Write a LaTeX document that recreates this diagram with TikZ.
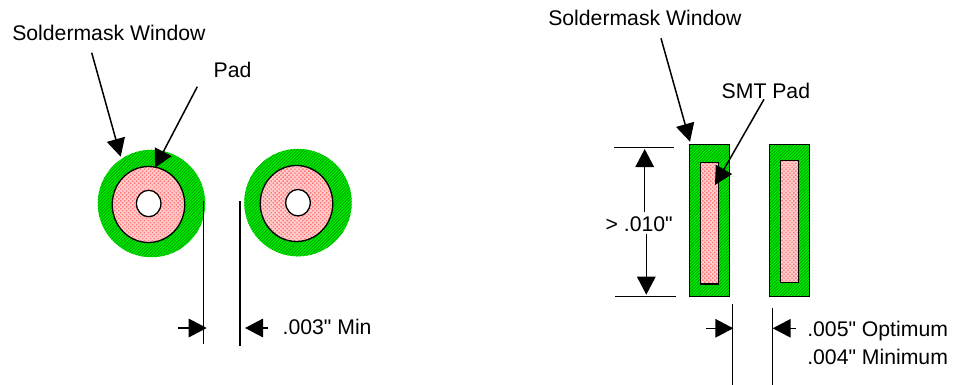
\documentclass[tikz,border=0pt]{standalone}
\usepackage{fontspec}
\newfontfamily\lblfont{Liberation Sans}
\usetikzlibrary{arrows.meta,patterns.meta,shapes.geometric}
\definecolor{maskgreen}{RGB}{0,240,0}
\definecolor{maskhatch}{RGB}{0,160,0}
\definecolor{padpink}{RGB}{255,120,120}
\definecolor{padbase}{RGB}{255,205,205}
\tikzset{
  x=1pt,y=-1pt,
  lbl/.style={anchor=base west,inner sep=0pt,outer sep=0pt,font=\lblfont\fontsize{21.2}{24}\selectfont,text=black},
  ln/.style={draw=black,line width=1.5pt},
  arr/.style={ln,-{Triangle[length=18pt,width=18.5pt]}},
  maskfill/.style={preaction={fill=maskgreen},pattern={Lines[angle=45,distance=2.2pt,line width=0.8pt]},pattern color=maskhatch},
  padfill/.style={preaction={fill=padbase},pattern={Dots[angle=45,distance=2.8pt,radius=1pt]},pattern color=padpink},
  maskcirc/.style={ellipse,inner sep=0pt,outer sep=0pt,maskfill},
  padcirc/.style={ellipse,inner sep=0pt,outer sep=0pt,draw=black,line width=1.3pt,padfill},
  holecirc/.style={ellipse,inner sep=0pt,outer sep=0pt,draw=black,line width=1.3pt,fill=white},
  maskrect/.style={rectangle,inner sep=0pt,outer sep=0pt,draw=black,line width=1.3pt,maskfill},
  padrect/.style={rectangle,inner sep=0pt,outer sep=0pt,draw=black,line width=1.3pt,padfill},
}
\begin{document}
\begin{tikzpicture}
\useasboundingbox (0,0) rectangle (953,385);
% left pair of round pads
\node[maskcirc,minimum width=107.5pt,minimum height=107.5pt] (maskA) at (151.5,203.5) {};
\node[padcirc,minimum width=72.5pt,minimum height=76pt] (padA) at (148.5,204.5) {};
\node[holecirc,minimum width=24.5pt,minimum height=26.5pt] (holeA) at (148.7,203.5) {};
\node[maskcirc,minimum width=107.5pt,minimum height=107.5pt] (maskB) at (298,202.6) {};
\node[padcirc,minimum width=72.5pt,minimum height=76pt] (padB) at (296.5,203.5) {};
\node[holecirc,minimum width=24.5pt,minimum height=26.5pt] (holeB) at (298,202.7) {};
% right pair of rectangular pads
\node[maskrect,minimum width=40.4pt,minimum height=152pt] (maskC) at (709.5,220.7) {};
\node[padrect,minimum width=18pt,minimum height=121.7pt] (padC) at (709.7,223.2) {};
\node[maskrect,minimum width=40.4pt,minimum height=152pt] (maskD) at (789.5,220.7) {};
\node[padrect,minimum width=18pt,minimum height=122pt] (padD) at (789.7,221.7) {};
% labels
\node[lbl] (lblMaskL) at (12.3,40.7) {Soldermask Window};
\node[lbl] (lblPad) at (213.7,77.3) {Pad};
\node[lbl] (lblMaskR) at (548.3,25.7) {Soldermask Window};
\node[lbl] (lblSmt) at (721.7,98.3) {SMT Pad};
\node[lbl] (lblMin) at (282.7,334.3) {.003" Min};
\node[lbl] (lblTen) at (605.7,231) {> .010"};
\node[lbl] (lblOpt) at (807.3,336.7) {.005" Optimum};
\node[lbl] (lblMinm) at (807.3,364) {.004" Minimum};
% coordinates for connector ends
\coordinate (a1) at (91.7,52.7); \coordinate (a2) at (120.7,156.7);
\coordinate (b1) at (197.3,86.7); \coordinate (b2) at (155,167.7);
\coordinate (c1) at (661,38.3); \coordinate (c2) at (690,141.7);
\coordinate (d1) at (764,99.3); \coordinate (d2) at (715,185);
\coordinate (e1) at (203.3,201); \coordinate (e2) at (203.3,344);
\coordinate (f1) at (240,201); \coordinate (f2) at (240,346);
\coordinate (g1) at (178.3,328); \coordinate (g2) at (206.7,328);
\coordinate (h1) at (268.3,328); \coordinate (h2) at (245,328);
\coordinate (i1) at (614,147.7); \coordinate (i2) at (674,147.7);
\coordinate (j1) at (615.3,296.7); \coordinate (j2) at (676,296.7);
\coordinate (k1) at (644.7,212.3); \coordinate (k2) at (644.7,149);
\coordinate (l1) at (646.3,234.3); \coordinate (l2) at (646.3,294.7);
\coordinate (m1) at (732.7,304.3); \coordinate (m2) at (732.7,385);
\coordinate (n1) at (772.7,307.7); \coordinate (n2) at (772.7,385);
\coordinate (o1) at (706,328.3); \coordinate (o2) at (733.3,328.3);
\coordinate (p1) at (795.7,328.3); \coordinate (p2) at (772.7,328.3);
% connectors
\draw[arr] (a1) -- (a2);
\draw[arr] (b1) -- (b2);
\draw[arr] (c1) -- (c2);
\draw[arr] (d1) -- (d2);
\draw[ln] (e1) -- (e2);
\draw[ln] (f1) -- (f2);
\draw[arr] (g1) -- (g2);
\draw[arr] (h1) -- (h2);
\draw[ln] (i1) -- (i2);
\draw[ln] (j1) -- (j2);
\draw[arr] (k1) -- (k2);
\draw[arr] (l1) -- (l2);
\draw[ln] (m1) -- (m2);
\draw[ln] (n1) -- (n2);
\draw[arr] (o1) -- (o2);
\draw[arr] (p1) -- (p2);
\end{tikzpicture}
\end{document}
